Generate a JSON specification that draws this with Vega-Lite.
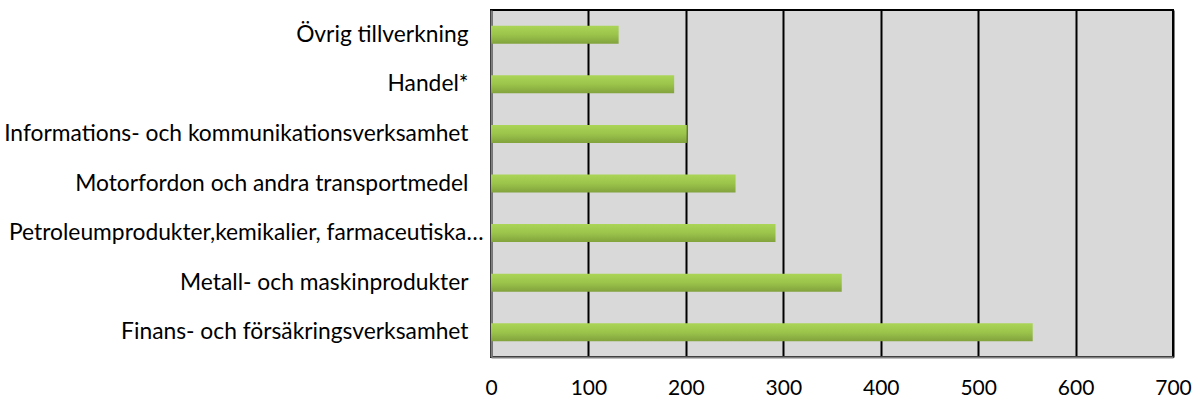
{
  "$schema": "https://vega.github.io/schema/vega-lite/v6.json",
  "width": 682,
  "height": 347,
  "autosize": {"type": "none"},
  "padding": {"left": 491, "top": 10, "right": 23, "bottom": 42},
  "background": "#ffffff",
  "view": {"fill": "#d9d9d9", "stroke": "#000000", "strokeWidth": 2},
  "data": {
    "values": [
      {"bransch": "Övrig tillverkning", "varde": 131},
      {"bransch": "Handel*", "varde": 188},
      {"bransch": "Informations- och kommunikationsverksamhet", "varde": 201},
      {"bransch": "Motorfordon och andra transportmedel", "varde": 251},
      {"bransch": "Petroleumprodukter,kemikalier, farmaceutiska…", "varde": 292},
      {"bransch": "Metall- och maskinprodukter", "varde": 360},
      {"bransch": "Finans- och försäkringsverksamhet", "varde": 556}
    ]
  },
  "mark": {
    "type": "bar",
    "size": 18,
    "color": {
      "gradient": "linear",
      "x1": 0, "y1": 0, "x2": 0, "y2": 1,
      "stops": [
        {"offset": 0, "color": "#aad556"},
        {"offset": 0.5, "color": "#9bc44b"},
        {"offset": 1, "color": "#82a23d"}
      ]
    }
  },
  "encoding": {
    "y": {
      "field": "bransch",
      "type": "nominal",
      "sort": null,
      "title": null,
      "axis": {
        "ticks": false,
        "grid": false,
        "domainColor": "#808080",
        "domainWidth": 2,
        "labelFont": "Lato",
        "labelFontSize": 22.8,
        "labelColor": "#000000",
        "labelLimit": 0,
        "labelPadding": {"condition": {"test": "indexof(datum.value, '…') >= 0", "value": 8}, "value": 23}
      }
    },
    "x": {
      "field": "varde",
      "type": "quantitative",
      "title": null,
      "scale": {"domain": [0, 700], "nice": false},
      "axis": {
        "values": [0, 100, 200, 300, 400, 500, 600, 700],
        "ticks": false,
        "grid": true,
        "gridColor": "#000000",
        "gridWidth": 2,
        "gridOpacity": 1,
        "domainColor": "#808080",
        "domainWidth": 2,
        "labelFont": "Lato",
        "labelFontSize": 21,
        "labelColor": "#000000",
        "labelPadding": 20,
        "labelFlush": false
      }
    }
  }
}
